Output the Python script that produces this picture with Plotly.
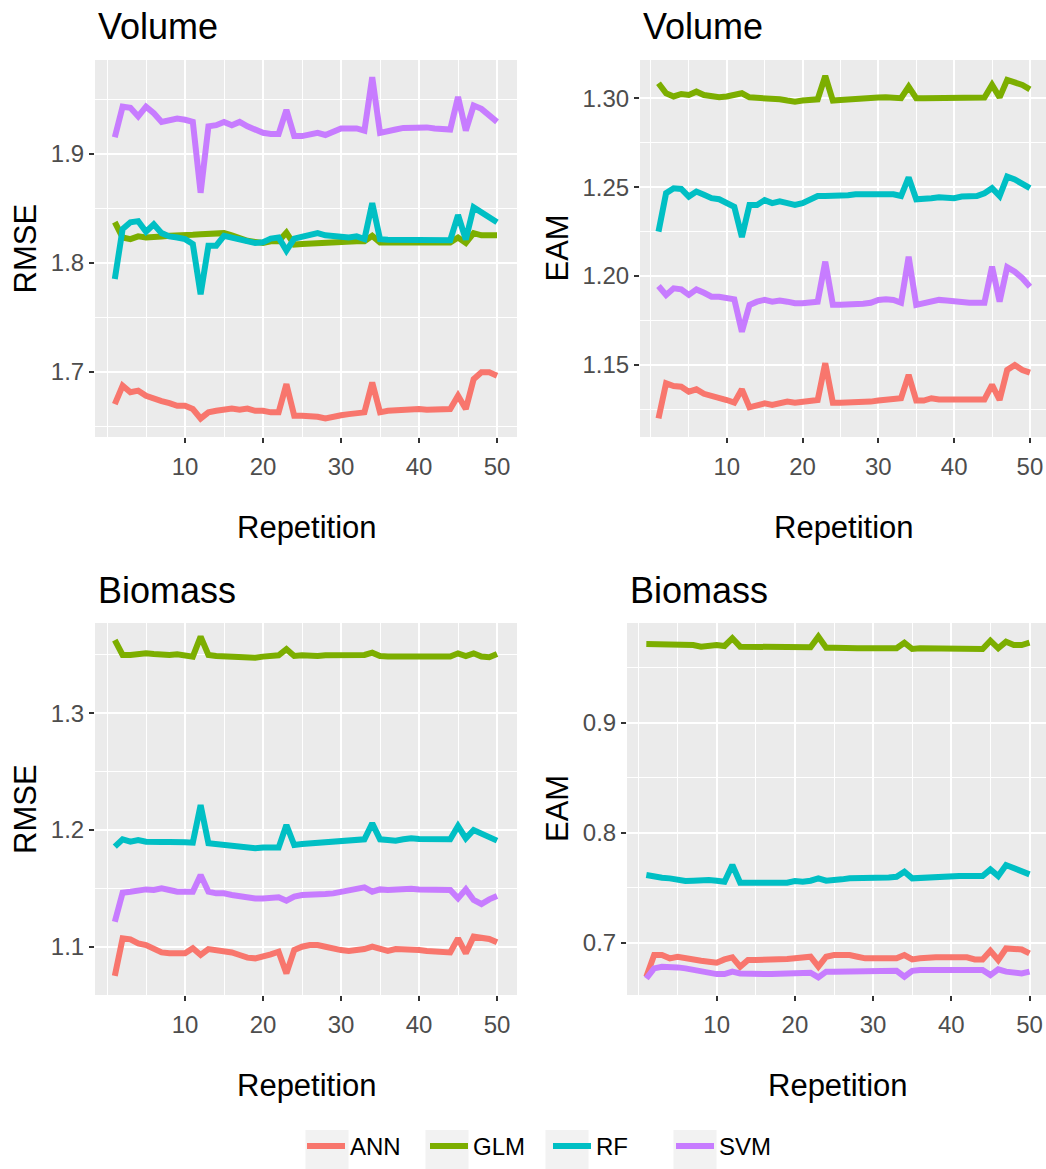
import plotly.graph_objects as go
from plotly.subplots import make_subplots

repetition = list(range(1, 51))
models = ["ANN", "GLM", "RF", "SVM"]
colors = ["#F8766D", "#7CAE00", "#00BFC4", "#C77CFF"]

# ---------------- Volume / RMSE ----------------
vol_rmse_ann = [1.6702, 1.687, 1.681, 1.6825, 1.6778, 1.6748, 1.673, 1.671, 1.6686, 1.6686,
                1.6656, 1.657, 1.6626, 1.664, 1.665, 1.666, 1.665, 1.666, 1.664, 1.664,
                1.6626, 1.6626, 1.6885, 1.6595, 1.6595, 1.6595, 1.6586, 1.657, 1.659, 1.660,
                1.661, 1.662, 1.6626, 1.690, 1.6626, 1.664, 1.6645, 1.6656, 1.6656, 1.6656,
                1.665, 1.665, 1.6656, 1.6656, 1.6778, 1.6656, 1.693, 1.6993, 1.6993, 1.6962]
vol_rmse_glm = [1.837, 1.823, 1.8215, 1.824, 1.823, 1.824, 1.824, 1.8245, 1.8245, 1.825,
                1.8255, 1.826, 1.826, 1.8265, 1.827, 1.825, 1.822, 1.820, 1.819, 1.818,
                1.8195, 1.8195, 1.8275, 1.8165, 1.817, 1.8175, 1.818, 1.818, 1.8185, 1.819,
                1.8195, 1.8195, 1.8195, 1.8245, 1.8185, 1.8185, 1.8185, 1.819, 1.819, 1.819,
                1.819, 1.8185, 1.819, 1.8185, 1.823, 1.818, 1.827, 1.825, 1.825, 1.825]
vol_rmse_rf = [1.785, 1.8307, 1.837, 1.838, 1.8283, 1.835, 1.827, 1.824, 1.823, 1.8215,
               1.817, 1.771, 1.8155, 1.8155, 1.8245, 1.823, 1.8215, 1.820, 1.818, 1.8186,
               1.822, 1.823, 1.811, 1.822, 1.8235, 1.825, 1.827, 1.825, 1.824, 1.823,
               1.823, 1.824, 1.8215, 1.8546, 1.8215, 1.821, 1.821, 1.821, 1.821, 1.821,
               1.821, 1.8205, 1.8205, 1.8205, 1.8436, 1.821, 1.8506, 1.846, 1.8415, 1.837]
vol_rmse_svm = [1.915, 1.943, 1.942, 1.934, 1.943, 1.937, 1.929, 1.931, 1.932, 1.931,
                1.929, 1.864, 1.925, 1.926, 1.929, 1.926, 1.929, 1.925, 1.922, 1.919,
                1.918, 1.918, 1.940, 1.916, 1.916, 1.918, 1.919, 1.917, 1.920, 1.923,
                1.923, 1.923, 1.921, 1.970, 1.919, 1.921, 1.922, 1.9235, 1.924, 1.924,
                1.924, 1.923, 1.922, 1.922, 1.952, 1.921, 1.944, 1.941, 1.935, 1.929]

# ---------------- Volume / EAM ----------------
vol_eam_ann = [1.120, 1.1397, 1.1382, 1.1378, 1.135, 1.1363, 1.1338, 1.1327, 1.132, 1.1303,
               1.1288, 1.1363, 1.1262, 1.1275, 1.1284, 1.1275, 1.1288, 1.1294, 1.1288, 1.1294,
               1.1303, 1.1303, 1.151, 1.1288, 1.1288, 1.1288, 1.1294, 1.1288, 1.1294, 1.130,
               1.1306, 1.1306, 1.1313, 1.1444, 1.130, 1.130, 1.1313, 1.1306, 1.1306, 1.1303,
               1.1303, 1.1303, 1.1303, 1.1306, 1.1388, 1.1303, 1.1472, 1.150, 1.1472, 1.1457]
vol_eam_glm = [1.3084, 1.3028, 1.301, 1.3024, 1.3018, 1.3037, 1.3018, 1.301, 1.3005, 1.301,
               1.3018, 1.3028, 1.3005, 1.3004, 1.3004, 1.300, 1.2994, 1.2987, 1.2981, 1.2987,
               1.299, 1.2994, 1.3125, 1.2987, 1.299, 1.2994, 1.300, 1.2997, 1.300, 1.3004,
               1.3005, 1.3005, 1.300, 1.3065, 1.300, 1.300, 1.300, 1.3002, 1.3002, 1.3002,
               1.3004, 1.3004, 1.3004, 1.3004, 1.3075, 1.3005, 1.3103, 1.3088, 1.3075, 1.305]
vol_eam_rf = [1.225, 1.2466, 1.2494, 1.249, 1.2447, 1.2475, 1.2457, 1.2438, 1.2432, 1.241,
              1.239, 1.222, 1.240, 1.240, 1.2427, 1.241, 1.242, 1.241, 1.240, 1.241,
              1.2432, 1.245, 1.245, 1.245, 1.245, 1.2455, 1.246, 1.246, 1.246, 1.246,
              1.246, 1.246, 1.245, 1.2555, 1.2432, 1.2432, 1.2438, 1.2443, 1.2443, 1.2438,
              1.2447, 1.2447, 1.245, 1.2466, 1.2494, 1.245, 1.2559, 1.2543, 1.2522, 1.2494]
vol_eam_svm = [1.1944, 1.1894, 1.1931, 1.1925, 1.1894, 1.1925, 1.1906, 1.1884, 1.1884, 1.1875,
               1.1869, 1.1687, 1.1838, 1.1856, 1.1866, 1.1856, 1.1862, 1.1856, 1.1847, 1.1847,
               1.185, 1.1856, 1.2081, 1.1838, 1.1838, 1.1838, 1.1844, 1.1844, 1.185, 1.1866,
               1.1869, 1.1866, 1.185, 1.2109, 1.1838, 1.185, 1.1856, 1.1866, 1.1862, 1.1856,
               1.1856, 1.185, 1.185, 1.185, 1.2053, 1.1856, 1.205, 1.2025, 1.1988, 1.194]

# ---------------- Biomass / RMSE ----------------
bio_rmse_ann = [1.075, 1.1072, 1.1063, 1.1029, 1.1014, 1.0986, 1.0951, 1.0943, 1.0943, 1.0943,
                1.0986, 1.0929, 1.098, 1.0971, 1.0963, 1.0951, 1.0929, 1.0906, 1.090, 1.0914,
                1.0934, 1.0957, 1.0771, 1.0971, 1.100, 1.1014, 1.1014, 1.100, 1.098, 1.0971,
                1.0963, 1.0971, 1.098, 1.100, 1.098, 1.0963, 1.098, 1.098, 1.098, 1.0971,
                1.0963, 1.0957, 1.0951, 1.0951, 1.1071, 1.0943, 1.1086, 1.1071, 1.1066, 1.1037]
bio_rmse_glm = [1.3628, 1.350, 1.350, 1.3508, 1.3514, 1.3508, 1.350, 1.350, 1.3506, 1.350,
                1.3486, 1.3657, 1.350, 1.3491, 1.3486, 1.3486, 1.348, 1.3477, 1.3477, 1.3486,
                1.3491, 1.3497, 1.3549, 1.3491, 1.3497, 1.3491, 1.3491, 1.3497, 1.350, 1.350,
                1.3506, 1.3506, 1.350, 1.352, 1.3491, 1.3486, 1.3486, 1.3486, 1.3486, 1.3486,
                1.3486, 1.348, 1.348, 1.3486, 1.3514, 1.3491, 1.3514, 1.3486, 1.348, 1.3508]
bio_rmse_rf = [1.1857, 1.192, 1.190, 1.1914, 1.190, 1.1894, 1.1897, 1.1897, 1.190, 1.1894,
               1.1891, 1.2214, 1.1886, 1.1877, 1.1871, 1.1871, 1.1857, 1.1843, 1.1843, 1.1849,
               1.1843, 1.1849, 1.2043, 1.1871, 1.188, 1.1886, 1.1891, 1.190, 1.190, 1.1909,
               1.1914, 1.192, 1.192, 1.2057, 1.192, 1.1914, 1.1909, 1.192, 1.1929, 1.1923,
               1.192, 1.192, 1.192, 1.192, 1.2034, 1.1929, 1.200, 1.1966, 1.1937, 1.1909]
bio_rmse_svm = [1.1214, 1.1463, 1.1471, 1.1486, 1.1491, 1.1486, 1.150, 1.1486, 1.1471, 1.1471,
                1.1471, 1.1614, 1.1471, 1.1457, 1.1457, 1.1443, 1.1429, 1.1423, 1.1414, 1.1414,
                1.1423, 1.1423, 1.1394, 1.1429, 1.1443, 1.1443, 1.1443, 1.1451, 1.1457, 1.1471,
                1.1486, 1.150, 1.1509, 1.1471, 1.1491, 1.1486, 1.1491, 1.150, 1.1497, 1.1491,
                1.1491, 1.1491, 1.1486, 1.1486, 1.1414, 1.1491, 1.140, 1.1366, 1.1406, 1.1434]

# ---------------- Biomass / EAM ----------------
bio_eam_ann = [0.669, 0.6888, 0.6888, 0.6858, 0.6873, 0.6858, 0.6843, 0.6836, 0.6827, 0.6818,
               0.6848, 0.6867, 0.6782, 0.6843, 0.6843, 0.6843, 0.6845, 0.6848, 0.6852, 0.6858,
               0.6865, 0.6873, 0.6782, 0.6873, 0.6888, 0.6888, 0.6888, 0.6873, 0.6858, 0.6858,
               0.6858, 0.6867, 0.6858, 0.6888, 0.6848, 0.6858, 0.6867, 0.6867, 0.6867, 0.6867,
               0.6867, 0.6867, 0.6848, 0.6848, 0.6927, 0.6843, 0.6948, 0.6948, 0.6939, 0.6903]
bio_eam_glm = [0.9715, 0.9715, 0.971, 0.9706, 0.9715, 0.9715, 0.9706, 0.9691, 0.970, 0.9706,
               0.9697, 0.9767, 0.9691, 0.9691, 0.9685, 0.9685, 0.9682, 0.9682, 0.9685, 0.9685,
               0.9685, 0.9685, 0.9782, 0.9682, 0.9682, 0.9676, 0.9676, 0.9676, 0.9676, 0.9676,
               0.9676, 0.9676, 0.9676, 0.9727, 0.967, 0.9676, 0.9676, 0.9676, 0.9676, 0.9676,
               0.9676, 0.9676, 0.967, 0.967, 0.9745, 0.9676, 0.9736, 0.9706, 0.9706, 0.9727]
bio_eam_rf = [0.7615, 0.760, 0.759, 0.7585, 0.757, 0.7561, 0.7564, 0.757, 0.757, 0.7564,
              0.7555, 0.7706, 0.7546, 0.7546, 0.7546, 0.7546, 0.7546, 0.7546, 0.7546, 0.7561,
              0.7555, 0.7564, 0.7585, 0.7564, 0.7576, 0.7576, 0.7585, 0.7585, 0.759, 0.759,
              0.7594, 0.7594, 0.760, 0.7645, 0.7585, 0.759, 0.7585, 0.7594, 0.760, 0.760,
              0.7606, 0.7606, 0.7606, 0.7606, 0.7667, 0.7606, 0.7706, 0.7676, 0.7645, 0.7621]
bio_eam_svm = [0.6675, 0.6767, 0.6782, 0.6782, 0.6776, 0.6767, 0.6752, 0.6737, 0.6721, 0.6715,
               0.6715, 0.6737, 0.6721, 0.6715, 0.6715, 0.6715, 0.6715, 0.6715, 0.6715, 0.6718,
               0.6721, 0.6727, 0.6685, 0.6737, 0.6737, 0.6737, 0.6737, 0.6737, 0.6737, 0.6740,
               0.6740, 0.6745, 0.6745, 0.6691, 0.6745, 0.6752, 0.6752, 0.6752, 0.6752, 0.6752,
               0.6752, 0.6752, 0.6752, 0.6752, 0.6706, 0.6758, 0.6737, 0.6727, 0.6721, 0.6737]

x_tick_vals = [10, 20, 30, 40, 50]
x_tick_text = ["10", "20", "30", "40", "50"]

panels = [
    ("Volume", "RMSE", [vol_rmse_ann, vol_rmse_glm, vol_rmse_rf, vol_rmse_svm]),
    ("Volume", "EAM", [vol_eam_ann, vol_eam_glm, vol_eam_rf, vol_eam_svm]),
    ("Biomass", "RMSE", [bio_rmse_ann, bio_rmse_glm, bio_rmse_rf, bio_rmse_svm]),
    ("Biomass", "EAM", [bio_eam_ann, bio_eam_glm, bio_eam_rf, bio_eam_svm]),
]

W, H = 1046, 1169
FONT = "Liberation Sans, Arial, sans-serif"

fig = make_subplots(rows=2, cols=2)

for i, (title, ylab, series) in enumerate(panels):
    r, c = i // 2 + 1, i % 2 + 1
    for m, col, ys in zip(models, colors, series):
        fig.add_trace(go.Scatter(
            x=repetition, y=ys, mode="lines", name=m,
            line=dict(color=col, width=6),
            legendgroup=m, showlegend=(i == 0),
        ), row=r, col=c)

# pixel layout of panels: (left, right, top, bottom)
geom = [
    (95, 517, 60, 437),
    (640, 1046, 60, 437),
    (95, 517, 623, 995),
    (627, 1046, 623, 995),
]
x_ranges = [[-1.54, 52.56], [-1.44, 52.12], [-1.54, 52.56], [-1.47, 52.11]]
y_ranges = [[1.640, 1.9858], [1.1095, 1.3215], [1.0586, 1.3774], [0.6525, 0.9906]]
y_dticks = [0.1, 0.05, 0.1, 0.1]
y_formats = [".1f", ".2f", ".1f", ".1f"]

tickfont = dict(family=FONT, size=24, color="#4D4D4D")
for i, (l, rgt, t, b) in enumerate(geom):
    sfx = "" if i == 0 else str(i + 1)
    fig.layout["xaxis" + sfx].update(
        domain=[l / W, rgt / W], range=x_ranges[i],
        tickmode="array", tickvals=x_tick_vals, ticktext=x_tick_text,
        ticks="outside", ticklen=5, tickwidth=1.5, tickcolor="#333333",
        ticklabelstandoff=3,
        tickfont=tickfont, showgrid=True, gridcolor="white", gridwidth=2,
        zeroline=False, showline=False,
        minor=dict(tickmode="linear", tick0=0, dtick=5, showgrid=True,
                   gridcolor="white", gridwidth=1, ticks=""),
    )
    fig.layout["yaxis" + sfx].update(
        domain=[1 - b / H, 1 - t / H], range=y_ranges[i],
        tickmode="linear", tick0=0, dtick=y_dticks[i], tickformat=y_formats[i],
        ticks="outside", ticklen=5, tickwidth=1.5, tickcolor="#333333",
        tickfont=tickfont, showgrid=True, gridcolor="white", gridwidth=2,
        zeroline=False, showline=False,
        minor=dict(tickmode="linear", tick0=0, dtick=y_dticks[i] / 2, showgrid=True,
                   gridcolor="white", gridwidth=1, ticks=""),
    )

annotations = []
for i, (title, ylab, _) in enumerate(panels):
    l, rgt, t, b = geom[i]
    annotations.append(dict(
        text=title, x=(l + 1) / W, y=1 - (t - 33) / H, xref="paper", yref="paper",
        xanchor="left", yanchor="middle", showarrow=False,
        font=dict(family=FONT, size=36, color="black")))
    annotations.append(dict(
        text="Repetition", x=((l + rgt + 2.5) / 2) / W, y=1 - (b + 90) / H,
        xref="paper", yref="paper", xanchor="center", yanchor="middle",
        showarrow=False, font=dict(family=FONT, size=31, color="black")))
    yx = 25 if i % 2 == 0 else 557
    annotations.append(dict(
        text=ylab, x=yx / W, y=1 - ((t + b) / 2) / H, xref="paper", yref="paper",
        xanchor="center", yanchor="middle", textangle=-90, showarrow=False,
        font=dict(family=FONT, size=31, color="black")))

# light grey legend key backgrounds (ggplot legend.key), behind the legend symbols
key_centers = [327, 447, 567, 695]
shapes = [dict(type="rect", xref="paper", yref="paper", layer="below",
               x0=(cx - 21.5) / W, x1=(cx + 21.5) / W,
               y0=0, y1=1 - 1130 / H,
               fillcolor="#F2F2F2", line=dict(width=0))
          for cx in key_centers]

fig.update_layout(
    width=W, height=H, margin=dict(l=0, r=0, t=0, b=0),
    paper_bgcolor="white", plot_bgcolor="#EBEBEB",
    font=dict(family=FONT, color="black"),
    annotations=annotations, shapes=shapes,
    legend=dict(orientation="h", x=0.5 + 25 / W, xanchor="center", y=0,
                yanchor="bottom", font=dict(family=FONT, size=24, color="black"),
                bgcolor="rgba(0,0,0,0)", itemwidth=38, entrywidth=70,
                traceorder="normal"),
)

fig.write_html("out.html")
